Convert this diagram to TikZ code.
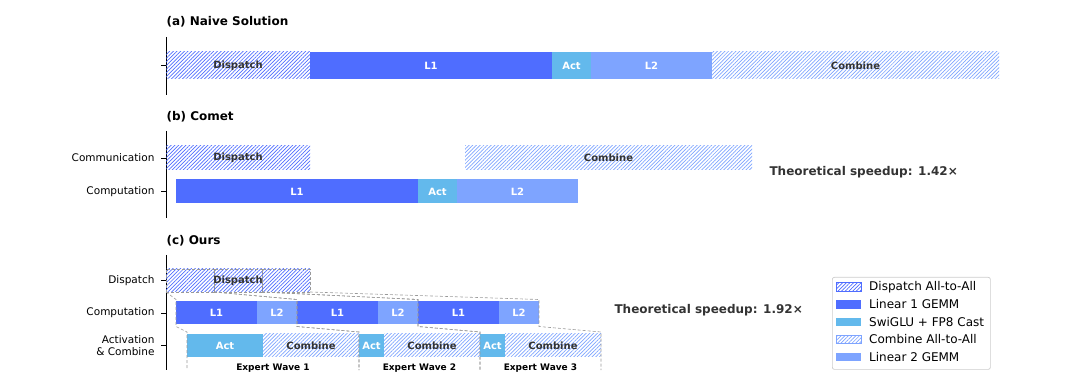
\documentclass[tikz,border=0pt]{standalone}
\usepackage{fontspec}
\setmainfont{DejaVu Sans}
\usepackage{xcolor}
\usepackage{tikz}
\usetikzlibrary{patterns.meta, positioning, calc}
\definecolor{linA}{RGB}{79,109,255}
\definecolor{actC}{RGB}{99,185,236}
\definecolor{linB}{RGB}{126,164,255}
\definecolor{txtD}{RGB}{51,51,51}
\tikzset{
  seg/.style={rectangle, inner sep=0pt, outer sep=0pt, minimum height=23pt,
              font=\fontsize{10}{12}\selectfont\bfseries, anchor=west},
  l1/.style={seg, fill=linA, text=white},
  act/.style={seg, fill=actC, text=white},
  l2/.style={seg, fill=linB, text=white},
  disp/.style={seg, text=txtD, pattern color=linA,
               pattern={Lines[angle=45, distance=2.6pt, line width=0.7pt]}},
  comb/.style={seg, text=txtD, pattern color=linB,
               pattern={Lines[angle=45, distance=2.6pt, line width=0.7pt]}},
  wave/.style={draw=gray!80, line width=0.6pt, dash pattern=on 3pt off 2pt},
  axis/.style={black, line width=0.8pt},
  ylab/.style={font=\fontsize{10.5}{12}\selectfont, anchor=east, align=right},
  ttl/.style={font=\fontsize{12}{14}\selectfont\bfseries, anchor=west},
  spd/.style={font=\fontsize{12}{14}\selectfont\bfseries, text=txtD, anchor=west},
  wavelbl/.style={font=\fontsize{9}{11}\selectfont\bfseries},
  legtxt/.style={font=\fontsize{12}{14}\selectfont, anchor=west, inner sep=0pt},
  legD/.style={disp, draw=linA, line width=0.6pt},
  legC/.style={comb, draw=linB, line width=0.6pt},
}

\begin{document}
\begin{tikzpicture}[x=1pt, y=-1pt]
  \useasboundingbox (0,0) rectangle (1080,390);
  %% (a) Naive Solution
  \node[ttl] (ta) at (163,22) {(a) Naive Solution};
  \draw[axis] (166,37) -- (166,95);
  \draw[axis] (161,65.5) -- (166,65.5);
  \node[disp, minimum height=27pt, minimum width=144pt] (aDisp) at (166,65.5) {Dispatch};
  \node[l1,   minimum height=27pt, minimum width=242pt, right=0pt of aDisp] (aL1)  {L1};
  \node[act,  minimum height=27pt, minimum width=39pt,  right=0pt of aL1]   (aAct) {Act};
  \node[l2,   minimum height=27pt, minimum width=121pt, right=0pt of aAct]  (aL2)  {L2};
  \node[comb, minimum height=27pt, minimum width=287pt, right=0pt of aL2]   (aComb){Combine};
  %% (b) Comet
  \node[ttl] (tb) at (163,117) {(b) Comet};
  \draw[axis] (166,131) -- (166,218);
  \foreach \y in {158,191.5}
    \draw[axis] (161,\y) -- (166,\y);
  \node[ylab] (bComm) at (158,158) {Communication};
  \node[ylab] (bComp) at (158,191.5) {Computation};
  \node[disp, minimum height=24pt, minimum width=144pt] (bDisp) at (166,158) {Dispatch};
  \node[comb, minimum height=24pt, minimum width=287pt] (bComb) at (465,158) {Combine};
  \node[l1,  minimum height=24pt, minimum width=242pt] (bL1) at (176,191.5) {L1};
  \node[act, minimum height=24pt, minimum width=39pt,  right=0pt of bL1]  (bAct) {Act};
  \node[l2,  minimum height=24pt, minimum width=121pt, right=0pt of bAct] (bL2)  {L2};
  \node[spd] (sb) at (766,172) {Theoretical speedup: 1.42×};
  %% (c) Ours
  \node[ttl] (tc) at (163,241) {(c) Ours};
  \draw[axis] (166,255) -- (166,370);
  \foreach \y in {280.5,313,345.5}
    \draw[axis] (161,\y) -- (166,\y);
  \node[ylab] (cDl) at (158,280.5) {Dispatch};
  \node[ylab] (cCl) at (158,313) {Computation};
  \node[ylab, font=\fontsize{10.5}{12.5}\selectfont] (cAl) at (158,345.5) {Activation\\\& Combine};
  \foreach \k/\x in {1/166,2/214,3/262}
    \node[disp, wave, minimum width=48pt] (cDs\k) at (\x,280.5) {};
  \node[seg, text=txtD, anchor=center] (cDisp) at (238,280.5) {Dispatch};
  \foreach \k/\x in {1/176,2/297,3/418} {
    \node[l1, minimum width=81pt] (cL1\k) at (\x,313) {L1};
    \node[l2, minimum width=40pt, right=0pt of cL1\k] (cL2\k) {L2};
  }
  \foreach \k/\x/\w in {1/187/76,2/359/25,3/480/25} {
    \node[act, minimum width=\w pt] (cAct\k) at (\x,345.5) {Act};
    \node[comb, minimum width=96pt, right=0pt of cAct\k] (cComb\k) {Combine};
    \node[wavelbl] (ew\k) at ($(cAct\k.south west)!0.5!(cComb\k.south east) + (0,11)$) {Expert Wave \k};
    \draw[wave] (cDs\k.south west) -- ([yshift=2pt]cL1\k.north west)
      -- ([yshift=-2pt]cL1\k.south west) -- ([yshift=2pt]cAct\k.north west) -- ++(0,38);
    \draw[wave] (cDs\k.south east) -- ([yshift=2pt]cL2\k.north east)
      -- ([yshift=-2pt]cL2\k.south east) -- ([yshift=2pt]cComb\k.north east) -- ++(0,38);
  }
  \node[spd] (sc) at (611,310) {Theoretical speedup: 1.92×};
  %% legend
  \node[draw=black!20, line width=0.7pt, rounded corners=2pt, fill=white, anchor=north west,
        minimum width=158pt, minimum height=92pt] (leg) at (832,277) {};
  \foreach \i/\s/\t/\y in {1/legD/Dispatch All-to-All/287, 2/l1/Linear 1 GEMM/304.5,
      3/act/SwiGLU + FP8 Cast/322, 4/legC/Combine All-to-All/339.5, 5/l2/Linear 2 GEMM/357} {
    \node[\s, minimum width=25pt, minimum height=8.5pt] (sw\i) at (836,\y) {};
    \node[legtxt] (lt\i) at (869,\y) {\t};
  }
\end{tikzpicture}
\end{document}
